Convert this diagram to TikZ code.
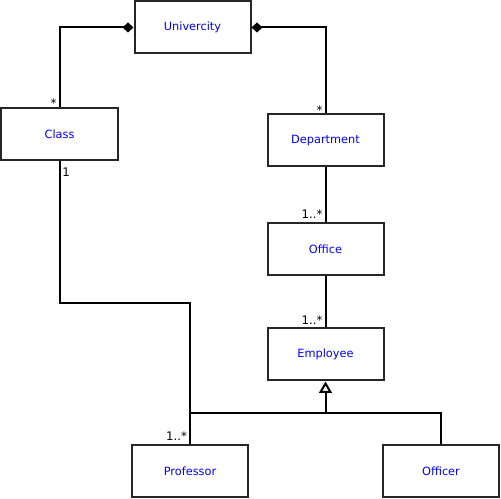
\documentclass[tikz,border=0pt]{standalone}
\usepackage{fontspec}
\setmainfont{DejaVu Sans}
\usetikzlibrary{arrows.meta,positioning}

\begin{document}
\begin{tikzpicture}[x=0.75pt, y=-0.75pt,
            classbox/.style={draw=black!85, line width=1.5pt, fill=white, minimum width=87pt, minimum height=39pt, inner sep=0pt, text=blue, font=\fontsize{8.5}{10}\selectfont},
            assoc/.style={line width=1.5pt, color=black},
            comp/.style={assoc, {Diamond[length=8.25pt, width=7.5pt]}-},
            gen/.style={assoc, -{Triangle[open, fill=white, length=8.5pt, width=9.5pt]}},
            mult/.style={font=\fontsize{8.8}{10}\selectfont, inner sep=1.5pt}
        ]
            \useasboundingbox (0,0) rectangle (501,499);

            % Classes
            \node[classbox] (univ) at (192.5, 27.5) {Univercity};
            \node[classbox] (class) at (59.5, 134) {Class};
            \node[classbox] (dept) at (325.5, 140.5) {Department};
            \node[classbox] (office) at (325.5, 249) {Office};
            \node[classbox] (emp) at (325.5, 354.5) {Employee};
            \node[classbox] (prof) at (190, 471) {Professor};
            \node[classbox] (officer) at (441, 471) {Officer};

            % Bend points
            \coordinate (cpbend) at (190, 303);
            \coordinate (genbar) at (325.5, 413);

            % Compositions
            \draw[comp] (univ.west) -| (class.north) node[pos=1, mult, above left, yshift=-3pt] {*};
            \draw[comp] (univ.east) -| (dept.north) node[pos=1, mult, above left, yshift=-3pt] {*};

            % Associations
            \draw[assoc] (dept) -- (office) node[pos=1, mult, above left] {1..*};
            \draw[assoc] (office) -- (emp) node[pos=1, mult, above left] {1..*};
            \draw[assoc] (class.south) node[mult, below right, yshift=-3pt] {1} |- (cpbend) -- (prof.north) node[pos=1, mult, above left] {1..*};

            % Generalization
            \draw[assoc] (prof.north) |- (genbar) -| (officer.north);
            \draw[gen] (genbar) -- (emp.south);
        \end{tikzpicture}
\end{document}
